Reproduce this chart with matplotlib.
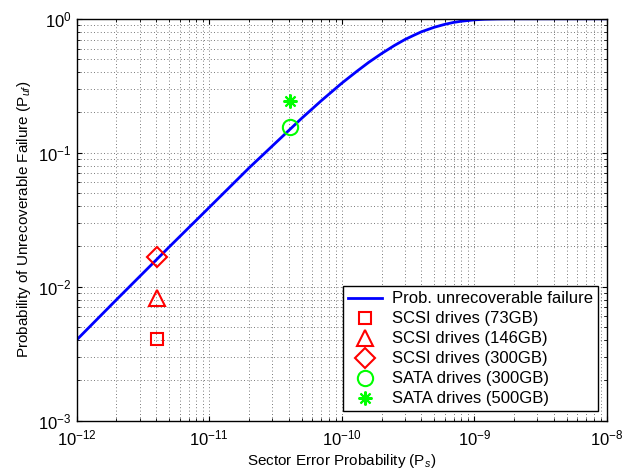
import numpy as np
import matplotlib
matplotlib.use('Agg')
import matplotlib.pyplot as plt
from matplotlib.ticker import NullFormatter

plt.rcParams['font.family'] = ['Liberation Sans', 'DejaVu Sans']
plt.rcParams['mathtext.fontset'] = 'custom'
plt.rcParams['mathtext.rm'] = 'Liberation Sans'
plt.rcParams['mathtext.it'] = 'Liberation Sans:italic'
plt.rcParams['mathtext.bf'] = 'Liberation Sans:bold'

# curve
ps_curve = [1e-12, 2e-12, 5e-12, 1e-11, 2e-11, 5e-11, 7e-11, 1e-10, 1.3e-10,
            1.6e-10, 2e-10, 2.5e-10, 3e-10, 3.5e-10, 4e-10, 5e-10, 6e-10,
            7e-10, 8e-10, 1e-9, 1.2e-9, 1.5e-9, 2e-9, 3e-9, 5e-9, 1e-8]
puf_curve = [0.004, 0.008, 0.0198, 0.039, 0.077, 0.181, 0.244, 0.33, 0.405,
             0.473, 0.55, 0.632, 0.70, 0.753, 0.80, 0.865, 0.909,
             0.94, 0.959, 0.982, 0.992, 0.9975, 0.9997, 1.0, 1.0, 1.0]

# drive measurements
scsi_ps = 4.05e-12
sata_ps = 4.1e-11
scsi73 = 0.00405
scsi146 = 0.0083
scsi300 = 0.0166
sata300 = 0.155
sata500 = 0.242

fig = plt.figure(figsize=(6.38, 4.70), dpi=100)
ax = fig.add_axes([0.120, 0.105, 0.831, 0.855])

ax.loglog(ps_curve, puf_curve, color='blue', lw=2, label='Prob. unrecoverable failure')
ax.plot(scsi_ps, scsi73, 's', mfc='none', mec='red', ms=9, mew=1.5, label='SCSI drives (73GB)')
ax.plot(scsi_ps, scsi146, '^', mfc='none', mec='red', ms=12, mew=1.5, label='SCSI drives (146GB)')
ax.plot(scsi_ps, scsi300, 'D', mfc='none', mec='red', ms=10, mew=1.5, label='SCSI drives (300GB)')
ax.plot(sata_ps, sata300, 'o', mfc='none', mec='#00ff00', ms=11, mew=1.5, label='SATA drives (300GB)')
ax.plot(sata_ps, sata500, marker=(8, 2, 0), ls='none', color='#00ff00', ms=10, mew=1.5,
        label='SATA drives (500GB)')

ax.set_xlim(1e-12, 1e-8)
ax.set_ylim(1e-3, 1)
ax.xaxis.set_minor_formatter(NullFormatter())
ax.yaxis.set_minor_formatter(NullFormatter())
ax.grid(True, which='both', ls=(0, (1, 3)), color='0.3', lw=0.6)
ax.tick_params(which='both', direction='in', top=True, right=True, labelsize=12)
ax.tick_params(axis='x', pad=6)
for s in ax.spines.values():
    s.set_linewidth(1.0)

ax.set_xlabel('Sector Error Probability (P$_s$)', fontsize=11, labelpad=2)
ax.set_ylabel('Probability of Unrecoverable Failure (P$_{uf}$)', fontsize=11)

leg = ax.legend(loc='lower right', fontsize=12, fancybox=False, framealpha=1,
                edgecolor='black', borderaxespad=0.55, handlelength=2.0,
                labelspacing=0.3, borderpad=0.3, handletextpad=0.6)
leg.get_frame().set_linewidth(1.0)

fig.savefig('out.png', dpi=100)
